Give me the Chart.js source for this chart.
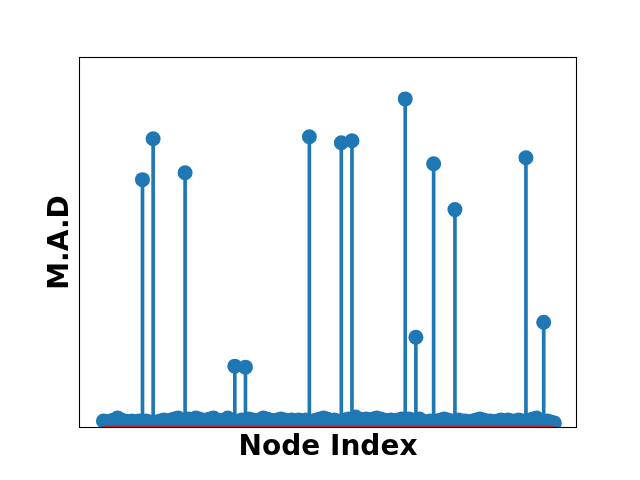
<!DOCTYPE html>
<html>
<head>
<meta charset="utf-8">
<script src="https://cdn.jsdelivr.net/npm/chart.js@4/dist/chart.umd.min.js"></script>
<style>
  html, body { margin: 0; padding: 0; background: #fff; }
</style>
</head>
<body>
<canvas id="stemChart" width="640" height="480"></canvas>
<script>
// node indices 0..127 and their M.A.D values
const nodeIndex = [
  0, 1, 2, 3, 4, 5, 6, 7, 8, 9, 10, 11, 12, 13, 14, 15,
  16, 17, 18, 19, 20, 21, 22, 23, 24, 25, 26, 27, 28, 29, 30, 31,
  32, 33, 34, 35, 36, 37, 38, 39, 40, 41, 42, 43, 44, 45, 46, 47,
  48, 49, 50, 51, 52, 53, 54, 55, 56, 57, 58, 59, 60, 61, 62, 63,
  64, 65, 66, 67, 68, 69, 70, 71, 72, 73, 74, 75, 76, 77, 78, 79,
  80, 81, 82, 83, 84, 85, 86, 87, 88, 89, 90, 91, 92, 93, 94, 95,
  96, 97, 98, 99, 100, 101, 102, 103, 104, 105, 106, 107, 108, 109, 110, 111,
  112, 113, 114, 115, 116, 117, 118, 119, 120, 121, 122, 123, 124, 125, 126, 127
];
const madValues = [
  0.05, 0.04, 0.05, 0.06, 0.08, 0.06, 0.05, 0.04, 0.05, 0.04, 0.05, 2.47, 0.05, 0.04, 2.88, 0.04,
  0.05, 0.06, 0.05, 0.06, 0.07, 0.08, 0.06, 2.54, 0.07, 0.06, 0.08, 0.07, 0.05, 0.06, 0.07, 0.08,
  0.06, 0.05, 0.06, 0.08, 0.06, 0.60, 0.05, 0.06, 0.59, 0.07, 0.06, 0.05, 0.06, 0.08, 0.07, 0.06,
  0.05, 0.06, 0.07, 0.06, 0.05, 0.06, 0.05, 0.06, 0.05, 0.06, 2.90, 0.05, 0.06, 0.07, 0.08, 0.07,
  0.05, 0.06, 0.05, 2.84, 0.06, 0.07, 2.86, 0.09, 0.07, 0.06, 0.07, 0.06, 0.07, 0.08, 0.07, 0.06,
  0.05, 0.06, 0.05, 0.06, 0.07, 3.28, 0.07, 0.06, 0.89, 0.07, 0.05, 0.04, 0.05, 2.63, 0.05, 0.06,
  0.07, 0.06, 0.05, 2.17, 0.06, 0.05, 0.05, 0.04, 0.05, 0.06, 0.07, 0.06, 0.05, 0.05, 0.04, 0.05,
  0.06, 0.05, 0.06, 0.05, 0.05, 0.06, 0.05, 2.69, 0.06, 0.07, 0.08, 0.05, 1.04, 0.05, 0.04, 0.03
];
const baselineValue = 0;

const points = nodeIndex.map((x, i) => ({ x: x, y: madValues[i] }));
const firstIdx = nodeIndex[0];
const lastIdx = nodeIndex[nodeIndex.length - 1];
const span = lastIdx - firstIdx;

// black frame round the plot area, like matplotlib axes spines
const framePlugin = {
  id: 'frame',
  afterDraw(chart) {
    const a = chart.chartArea;
    const ctx = chart.ctx;
    ctx.save();
    ctx.strokeStyle = '#000';
    ctx.lineWidth = 1.1;
    ctx.strokeRect(a.left - 0.5, a.top - 0.5, a.right - a.left + 1, a.bottom - a.top + 1);
    ctx.restore();
  }
};

new Chart(document.getElementById('stemChart'), {
  type: 'bar',
  data: {
    datasets: [
      {
        type: 'line',
        data: [{ x: firstIdx, y: baselineValue }, { x: lastIdx, y: baselineValue }],
        borderColor: '#d62728',
        borderWidth: 2,
        pointRadius: 0,
        order: 0,
        clip: 0
      },
      {
        type: 'line',
        data: points,
        showLine: false,
        pointRadius: 7.5,
        pointBackgroundColor: '#1f77b4',
        pointBorderWidth: 0,
        order: 1,
        clip: 0
      },
      {
        type: 'bar',
        data: points,
        backgroundColor: '#1f77b4',
        borderWidth: 0,
        barThickness: 3,
        order: 2,
        clip: 0
      }
    ]
  },
  options: {
    responsive: false,
    animation: false,
    layout: { padding: { top: 58, right: 64, left: 0, bottom: 0 } },
    plugins: { legend: { display: false }, tooltip: { enabled: false } },
    scales: {
      x: {
        type: 'linear',
        min: firstIdx - 0.05 * span - 0.25,
        max: lastIdx + 0.05 * span - 0.25,
        offset: false,
        grid: { display: false },
        border: { display: false },
        ticks: { display: false },
        title: {
          display: true,
          text: 'Node Index',
          color: '#000',
          font: { family: 'DejaVu Sans', size: 28, weight: 'bold' },
          padding: { top: 0, bottom: 15 }
        },
        afterFit(scale) { scale.height = 53; }
      },
      y: {
        min: -0.01,
        max: 3.69,
        grid: { display: false },
        border: { display: false },
        ticks: { display: false },
        title: {
          display: true,
          text: 'M.A.D',
          color: '#000',
          font: { family: 'DejaVu Sans', size: 28, weight: 'bold' },
          padding: { top: 44, bottom: 0 }
        },
        afterFit(scale) { scale.width = 80; }
      }
    }
  },
  plugins: [framePlugin]
});
</script>
</body>
</html>
